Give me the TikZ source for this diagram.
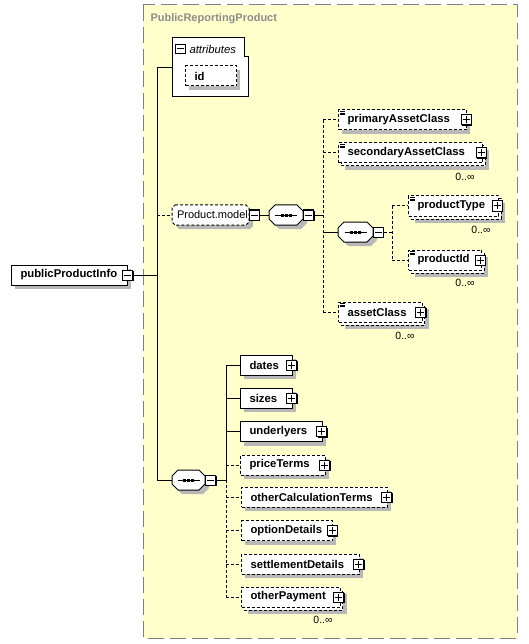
\documentclass[tikz,border=0pt]{standalone}
\usepackage{fontspec}
\setmainfont{Liberation Sans}
\definecolor{bgy}{RGB}{255,255,204}
\definecolor{bord}{RGB}{128,128,128}
\definecolor{shd}{RGB}{184,184,184}
\definecolor{ttl}{RGB}{140,140,140}
\newcommand\PM[4]{% name x y style
  \fill (#2-4,#3-4) rectangle (#2+6,#3+6);
  \node[#4] (#1) at (#2,#3) {};
}
\newcommand\El[6]{% name x1 x2 yc text style
  \fill[shd] (#2+4,#4-6) rectangle (#3+4,#4+14);
  \pgfmathsetmacro\eltw{#3-#2-18}%
  \node[box, #6] (#1) at (#2,#4) {\makebox[\eltw pt][l]{#5}};
  \PM{#1-pm}{#3}{#4}{plusbox}
}
\newcommand\ElS[5]{% stacked
  \fill[shd] (#2+7,#4-3) rectangle (#3+7,#4+17);
  \draw[dsh, fill=white] (#2+3,#4-7) rectangle (#3+3,#4+13);
  \pgfmathsetmacro\eltw{#3-#2-18}%
  \node[box, dsh] (#1) at (#2,#4) {\makebox[\eltw pt][l]{#5}};
  \PM{#1-pm}{#3-1}{#4}{plusbox}
}
\newcommand\Ico[2]{%
  \draw[line width=0.6pt] (#1+2,#2-8.5) -- ++(5,0) (#1+2,#2-7) -- ++(5,0) (#1+2,#2-5.5) -- ++(5,0);
}
\newcommand\Oct[4]{%
  \begin{scope}[shift={(#2,#3)}]
    \fill[shd] (4-#4+6,4-10) -- (4+#4-6,4-10) -- (4+#4,4-4) -- (4+#4,4+4) -- (4+#4-6,4+10) -- (4-#4+6,4+10) -- (4-#4,4+4) -- (4-#4,4-4) -- cycle;
    \draw[fill=white] (-#4+6,-10) -- (#4-6,-10) -- (#4,-4) -- (#4,4) -- (#4-6,10) -- (-#4+6,10) -- (-#4,4) -- (-#4,-4) -- cycle;
    \draw (-11,0) -- (11,0);
    \fill (-5.5,-1.5) rectangle (-2.5,1.5);
    \fill (-1.5,-1.5) rectangle (1.5,1.5);
    \fill (2.5,-1.5) rectangle (5.5,1.5);
  \end{scope}
  \node[inner sep=0pt, minimum width=2*#4, minimum height=20] (#1) at (#2,#3) {};
}
\begin{document}
\begin{tikzpicture}[x=1pt,y=-1pt, line width=1pt,
  dsh/.style={dash pattern=on 3pt off 2pt},
  box/.style={draw, fill=white, minimum height=20pt, inner ysep=0pt, inner xsep=9pt,
    anchor=west, font=\bfseries\fontsize{11.3}{13}\selectfont},
  pmbase/.style={draw, fill=white, minimum size=10pt, inner sep=0pt},
  plusbox/.style={pmbase, path picture={\draw[line width=1pt]
    ([xshift=-3.5pt]path picture bounding box.center) -- ([xshift=3.5pt]path picture bounding box.center)
    ([yshift=-3.5pt]path picture bounding box.center) -- ([yshift=3.5pt]path picture bounding box.center);}},
  minusbox/.style={pmbase, path picture={\draw[line width=1pt]
    ([xshift=-3.5pt]path picture bounding box.center) -- ([xshift=3.5pt]path picture bounding box.center);}},
  mult/.style={font=\fontsize{10.5}{12}\selectfont, inner sep=0pt},
]
\useasboundingbox (0,0) rectangle (528,644);
% background group
\fill[bgy] (143,5) rectangle (517,638);
\draw[bord, dash pattern=on 16pt off 6pt] (143,5) rectangle (517,638);
\node[anchor=west, inner sep=0pt, font=\bfseries\fontsize{11}{13}\selectfont, text=ttl] (title) at (150,19) {PublicReportingProduct};

% attributes
\draw[fill=white] (172,38) -- (244,38) -- (244,57) -- (248,57) -- (248,97) -- (172,97) -- cycle;
\node[inner sep=0pt, minimum width=76, minimum height=59] (attr) at (210,67.5) {};
\node[minusbox, minimum size=9.5pt, line width=1.2pt] (attr-pm) at (180.5,49) {};
\node[anchor=west, inner sep=0pt, font=\itshape\fontsize{11.3}{13}\selectfont] (attrlbl) at (189,49) {attributes};
\fill[shd] (189,70) rectangle (240,90);
\node[box, dsh] (id) at (185,76) {\makebox[33pt][l]{id}};

% root
\fill[shd] (15,269) rectangle (131,289);
\node[box] (root) at (11,275) {\makebox[98pt][l]{publicProductInfo}};
\PM{root-pm}{127.5}{275}{minusbox}

% Product.model group
\fill[shd] (179,209) -- (250,209) -- (253,212) -- (253,226) -- (250,229) -- (179,229) -- (176,226) -- (176,212) -- cycle;
\draw[dsh, fill=white] (175,205) -- (246,205) -- (249,208) -- (249,222) -- (246,225) -- (175,225) -- (172,222) -- (172,208) -- cycle;
\node[box, draw=none, fill=none, font=\fontsize{11}{13}\selectfont, inner xsep=4.5pt] (pmod) at (172,215) {\makebox[68pt][l]{Product.model}};
\PM{pmod-pm}{254}{215}{minusbox}

% sequence 1
\Oct{seq1}{286}{215}{17}
\PM{seq1-pm}{308.5}{215}{minusbox}

\El{pac}{338}{466}{120}{primaryAssetClass}{dsh}
\Ico{338}{120}
\ElS{sac}{338}{482}{153}{secondaryAssetClass}
\Ico{338}{153}
\node[mult] (m1) at (465,177) {0..∞};

\Oct{seq2}{355.5}{232}{17.5}
\PM{seq2-pm}{378}{232}{minusbox}

\ElS{pt}{408}{498}{206}{productType}
\Ico{408}{206}
\node[mult] (m2) at (481,230) {0..∞};
\ElS{pid}{408}{481}{260}{productId}
\Ico{408}{260}
\node[mult] (m3) at (465,283) {0..∞};

\ElS{ac}{338}{421.5}{312}{assetClass}
\Ico{338}{312}
\node[mult] (m4) at (405,336) {0..∞};

% sequence 3
\Oct{seq3}{188.5}{480}{16.5}
\PM{seq3-pm}{210.5}{480}{minusbox}

\El{dates}{240}{291.5}{365}{dates}{}
\El{sizes}{240}{291.5}{398}{sizes}{}
\El{under}{240}{321.5}{431.5}{underlyers}{}
\El{price}{240}{324.7}{465}{priceTerms}{dsh}
\El{oct}{241}{386.5}{497}{otherCalculationTerms}{dsh}
\El{opt}{241}{332}{530.5}{optionDetails}{dsh}
\El{settle}{241}{358.5}{564}{settlementDetails}{dsh}
\ElS{op}{241}{339.5}{597}{otherPayment}
\node[mult] (m5) at (323,620) {0..∞};

% connectors
\coordinate (t1) at (157,67.5);
\coordinate (t2) at (157,480);
\draw (t1) -- (t2);
\draw (t1) -- (attr.west);
\draw (root-pm.east) -- (root-pm.east -| t1);
\draw[dsh] (pmod.west -| t1) -- (pmod.west);
\draw (t2) -- (seq3.west);
\draw (pmod-pm.east) -- (seq1.west);

\coordinate (v1top) at (323,120);
\coordinate (v1bot) at (323,312);
\draw (seq1-pm.east) -- (seq1-pm.east -| v1top);
\draw[dsh] (v1top) -- (v1bot);
\draw[dsh] (v1top) -- (pac.west);
\draw[dsh] (sac.west -| v1top) -- (sac.west);
\draw (seq2.west -| v1top) -- (seq2.west);
\draw[dsh] (v1bot) -- (ac.west);

\coordinate (v2top) at (392,206);
\coordinate (v2bot) at (392,260);
\draw[dsh] (seq2-pm.east) -- (seq2-pm.east -| v2top);
\draw[dsh] (v2top) -- (v2bot);
\draw[dsh] (v2top) -- (pt.west);
\draw[dsh] (v2bot) -- (pid.west);

\coordinate (v3top) at (226,365);
\coordinate (v3mid) at (226,480);
\coordinate (v3bot) at (226,597);
\draw (seq3-pm.east) -- (v3mid);
\draw (v3top) -- (v3mid);
\draw[dsh] (v3mid) -- (v3bot);
\draw (v3top) -- (dates.west);
\draw (sizes.west -| v3top) -- (sizes.west);
\draw (under.west -| v3top) -- (under.west);
\draw[dsh] (price.west -| v3top) -- (price.west);
\draw[dsh] (oct.west -| v3top) -- (oct.west);
\draw[dsh] (opt.west -| v3top) -- (opt.west);
\draw[dsh] (settle.west -| v3top) -- (settle.west);
\draw[dsh] (v3bot) -- (op.west);
\end{tikzpicture}
\end{document}
